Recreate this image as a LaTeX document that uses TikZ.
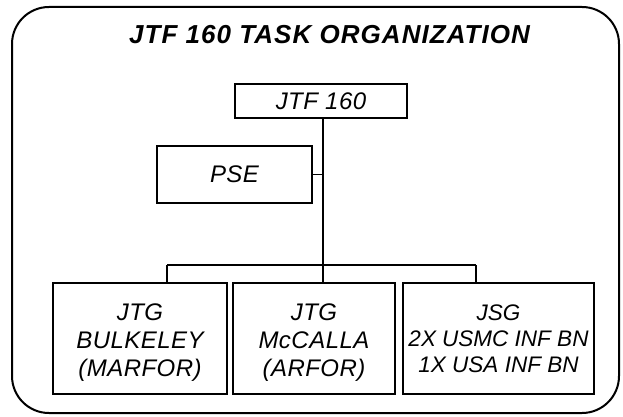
\documentclass[tikz,border=0pt]{standalone}
\usepackage{fontspec}
\setmainfont{Liberation Sans}
\newcommand{\lowerstrut}{\rule{0pt}{24pt}}
\begin{document}
\begin{tikzpicture}[x=1pt,y=-1pt,
  orgbox/.style={draw, line width=1.9pt, inner sep=0pt, align=center,
    font=\fontsize{24}{28}\selectfont\itshape\addfontfeature{LetterSpace=2}},
  wire/.style={line width=1.9pt}]
\useasboundingbox (0,0) rectangle (623,417);
\draw[line width=2pt, rounded corners=37pt] (12,7) rectangle (619,413);
\node (title) at (329.5,34.5) {\fontsize{26}{30}\selectfont\bfseries\itshape\addfontfeature{LetterSpace=4}JTF 160 TASK ORGANIZATION};
\node[orgbox, minimum width=172pt, minimum height=34pt] (jtf) at (321,101) {JTF 160};
\node[orgbox, minimum width=155pt, minimum height=57pt] (pse) at (234.5,174.5) {PSE};
\node[orgbox, minimum width=174pt, minimum height=111pt] (b1) at (140,338.5) {\lowerstrut JTG\\BULKELEY\\(MARFOR)};
\node[orgbox, minimum width=162pt, minimum height=111pt] (b2) at (314,338.5) {\lowerstrut JTG\\McCALLA\\(ARFOR)};
\node[orgbox, minimum width=191pt, minimum height=111pt, font=\fontsize{22.5}{26}\selectfont\itshape] (b3) at (498.5,338.5) {JSG\\2X USMC INF BN\\1X USA INF BN};
\coordinate (busL) at (167,265);
\coordinate (busM) at (323,265);
\coordinate (busR) at (476,265);
\draw[wire] (jtf.south -| busM) -- (busM);
\draw[wire] (pse.east) -- (pse.east -| busM);
\draw[wire] (busL) -- (busR);
\draw[wire] (busL) -- (b1.north -| busL);
\draw[wire] (busM) -- (b2.north -| busM);
\draw[wire] (busR) -- (b3.north -| busR);
\end{tikzpicture}
\end{document}
